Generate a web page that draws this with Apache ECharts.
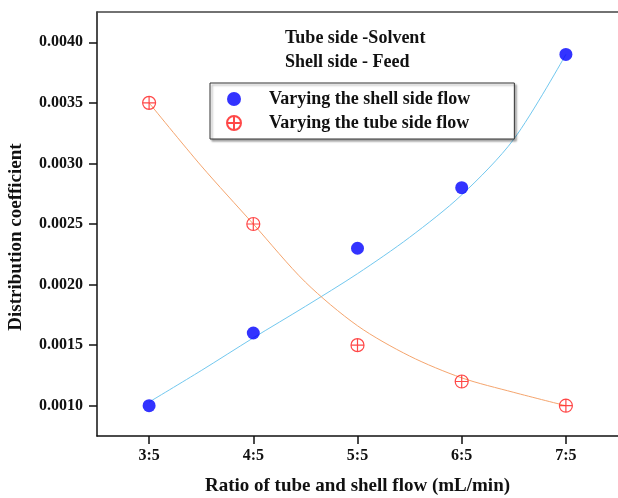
<!DOCTYPE html>
<html>
<head>
<meta charset="utf-8">
<script src="https://cdn.jsdelivr.net/npm/echarts@6/dist/echarts.min.js"></script>
<style>
  html, body { margin: 0; padding: 0; background: #fff; }
  #chart_main { width: 618px; height: 498px; }
</style>
</head>
<body>
<div id="chart_main"></div>
<script>
// categories (ratio of tube and shell flow)
var xValues = [3, 4, 5, 6, 7];
var xLabels = ['3:5', '4:5', '5:5', '6:5', '7:5'];
var yTicks = [0.0010, 0.0015, 0.0020, 0.0025, 0.0030, 0.0035, 0.0040];

// measured points
var shellSide = [0.0010, 0.0016, 0.0023, 0.0028, 0.0039];
var tubeSide = [0.0035, 0.0025, 0.0015, 0.0012, 0.0010];

// fitted curves
var fitX = [3, 3.5, 4, 4.5, 5, 5.5, 6, 6.5, 7];
var shellFit = [0.00103, 0.00129, 0.00156, 0.00182, 0.00209, 0.00239, 0.00274, 0.00320, 0.00390];
var tubeFit = [0.00350, 0.00298, 0.00250, 0.00202, 0.00166, 0.00141, 0.00123, 0.00111, 0.00100];

var serif = '"Liberation Serif", "Times New Roman", serif';
var crossCircle = 'path://M0,-10A10,10,0,1,1,0,10A10,10,0,1,1,0,-10ZM-10,0L10,0M0,-10L0,10';

function pairs(xs, ys) {
    var out = [];
    for (var i = 0; i < xs.length; i++) out.push([xs[i], ys[i]]);
    return out;
}

var myChart = echarts.init(document.getElementById('chart_main'));
var option = {
    animation: false,
    backgroundColor: '#fff',
    graphic: [{
        type: 'text',
        left: 285,
        top: 26,
        style: {
            text: 'Tube side -Solvent\nShell side - Feed',
            font: 'bold 18px ' + serif,
            fill: '#111',
            lineHeight: 24
        }
    }],
    legend: {
        orient: 'vertical',
        left: 210,
        top: 83,
        padding: [7, 44, 7, 16],
        itemGap: 6,
        itemWidth: 14,
        itemHeight: 14,
        borderColor: '#333',
        borderWidth: 1,
        backgroundColor: '#fff',
        shadowColor: 'rgba(0,0,0,0.35)',
        shadowBlur: 2,
        shadowOffsetX: 2,
        shadowOffsetY: 2,
        data: ['Varying the shell side flow', 'Varying the tube side flow'],
        textStyle: {
            fontFamily: serif,
            fontWeight: 'bold',
            fontSize: 18,
            color: '#111',
            padding: [0, 0, 0, 23]
        }
    },
    grid: {
        left: 97,
        right: 0,
        top: 12,
        bottom: 62,
        outerBoundsMode: 'none'
    },
    xAxis: [{
        type: 'value',
        min: 2.5,
        max: 7.5,
        name: 'Ratio of tube and shell flow (mL/min)',
        nameLocation: 'middle',
        nameGap: 41,
        nameTextStyle: { fontFamily: serif, fontWeight: 'bold', fontSize: 19, color: '#111' },
        splitLine: { show: false },
        axisLine: { lineStyle: { color: '#111', width: 1.5 } },
        axisTick: { length: 8, lineStyle: { color: '#111', width: 1.5 }, customValues: xValues },
        axisLabel: {
            customValues: xValues,
            margin: 12,
            fontFamily: serif,
            fontWeight: 'bold',
            fontSize: 16,
            color: '#111',
            formatter: function (v) {
                return xLabels[xValues.indexOf(v)];
            }
        }
    }, {
        type: 'value',
        position: 'top',
        min: 2.5,
        max: 7.5,
        splitLine: { show: false },
        axisLine: { lineStyle: { color: '#444', width: 1.5 } },
        axisTick: { show: false },
        axisLabel: { show: false }
    }],
    yAxis: {
        type: 'value',
        min: 0.00075,
        max: 0.00425,
        name: 'Distribution coefficient',
        nameLocation: 'middle',
        nameGap: 71,
        nameTextStyle: { fontFamily: serif, fontWeight: 'bold', fontSize: 19, color: '#111', padding: [0, 26, 0, 0] },
        splitLine: { show: false },
        axisLine: { show: true, lineStyle: { color: '#111', width: 1.5 } },
        axisTick: { show: true, length: 8, lineStyle: { color: '#111', width: 1.5 }, customValues: yTicks },
        axisLabel: {
            customValues: yTicks,
            margin: 14,
            fontFamily: serif,
            fontWeight: 'bold',
            fontSize: 16,
            color: '#111',
            formatter: function (v) {
                return v.toFixed(4);
            }
        }
    },
    series: [
        {
            name: 'shell fit',
            type: 'line',
            smooth: 0.3,
            symbol: 'none',
            data: pairs(fitX, shellFit),
            lineStyle: { color: '#72c8ef', width: 1 },
            z: 1
        },
        {
            name: 'tube fit',
            type: 'line',
            smooth: 0.3,
            symbol: 'none',
            data: pairs(fitX, tubeFit),
            lineStyle: { color: '#f5a56e', width: 1 },
            z: 1
        },
        {
            name: 'Varying the shell side flow',
            type: 'scatter',
            symbol: 'circle',
            symbolSize: 13,
            data: pairs(xValues, shellSide),
            itemStyle: { color: '#0000ff' },
            z: 3
        },
        {
            name: 'Varying the tube side flow',
            type: 'scatter',
            symbol: crossCircle,
            symbolSize: 13,
            data: pairs(xValues, tubeSide),
            itemStyle: { color: 'rgba(255,255,255,0)', borderColor: '#ff1a1a', borderWidth: 1.2 },
            z: 3
        }
    ]
};
myChart.setOption(option);
window.onresize = function () {
    myChart.resize();
};
</script>
</body>
</html>
